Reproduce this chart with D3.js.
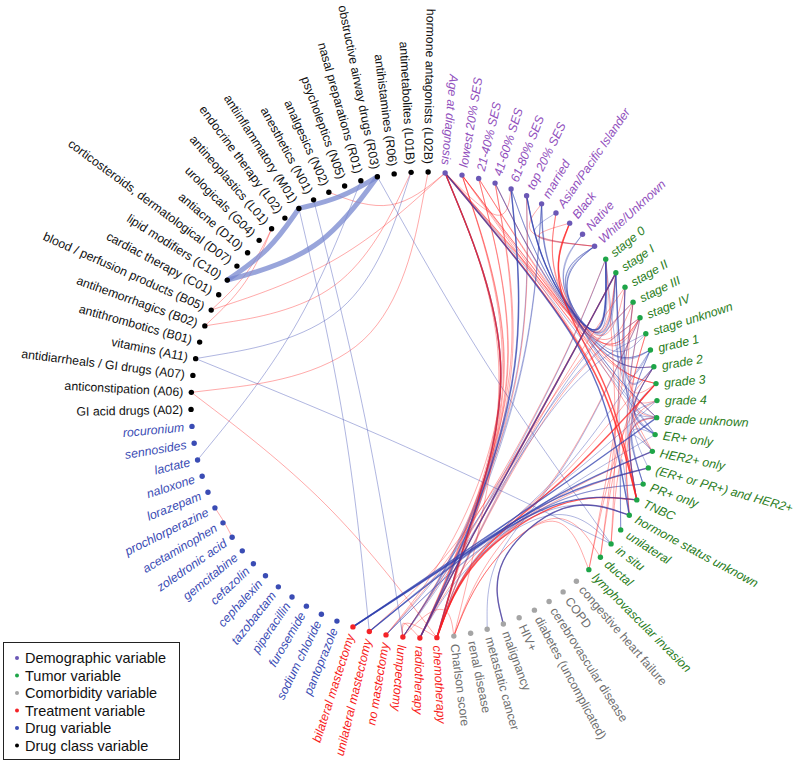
<!DOCTYPE html>
<html><head><meta charset="utf-8">
<script src="https://cdn.jsdelivr.net/npm/d3@7"></script>
<style>body{margin:0;background:#fff}svg{display:block}text{font-family:"Liberation Sans",Arial,sans-serif}</style>
</head><body><svg id="c" width="800" height="763"></svg>
<script>
// ---------------- DATA ----------------
const demographic = ["Age at diagnosis","lowest 20% SES","21-40% SES","41-60% SES","61-80% SES","top 20% SES","married","Asian/Pacific Islander","Black","Native","White/Unknown"];
const tumor = ["stage 0","stage I","stage II","stage III","stage IV","stage unknown","grade 1","grade 2","grade 3","grade 4","grade unknown","ER+ only","HER2+ only","(ER+ or PR+) and HER2+","PR+ only","TNBC","hormone status unknown","unilateral","in situ","ductal","lymphovascular invasion"];
const comorbidity = ["congestive heart failure","COPD","cerebrovascular disease","diabetes (uncomplicated)","HIV+","malignancy","metastatic cancer","renal disease","Charlson score"];
const treatment = ["chemotherapy","radiotherapy","lumpectomy","no mastectomy","unilateral mastectomy","bilateral mastectomy"];
const drugs = ["pantoprazole","sodium chloride","furosemide","piperacillin","tazobactam","cephalexin","cefazolin","gemcitabine","zoledronic acid","acetaminophen","prochlorperazine","lorazepam","naloxone","lactate","sennosides","rocuronium"];
const drugClasses = ["GI acid drugs (A02)","anticonstipation (A06)","antidiarrheals / GI drugs (A07)","vitamins (A11)","antithrombotics (B01)","antihemorrhagics (B02)","blood / perfusion products (B05)","cardiac therapy (C01)","lipid modifiers (C10)","corticosteroids, dermatological (D07)","antiacne (D10)","urologicals (G04)","antineoplastics (L01)","endocrine therapy (L02)","antiinflammatory (M01)","anesthetics (N01)","analgesics (N02)","psycholeptics (N05)","nasal preparations (R01)","obstructive airway drugs (R03)","antihistamines (R06)","antimetabolites (L01B)","hormone antagonists (L02B)"];
const legendLabels = ["Demographic variable","Tumor variable","Comorbidity variable","Treatment variable","Drug variable","Drug class variable"];
const stageVariables = ["stage 0","stage I","stage II","stage III","stage IV","stage unknown"];

// links: source, target, sign (+1 red / -1 blue), strength (1 weak, 2 strong, 5 drug-class bundle)
const linkSource = [
 "Age at diagnosis","Age at diagnosis","Age at diagnosis","Age at diagnosis","Age at diagnosis","Age at diagnosis",
 "lowest 20% SES","lowest 20% SES","lowest 20% SES","lowest 20% SES","21-40% SES","21-40% SES",
 "41-60% SES","41-60% SES","61-80% SES","61-80% SES","top 20% SES","top 20% SES","top 20% SES",
 "married","married","Asian/Pacific Islander","Asian/Pacific Islander","Black","Black","Black",
 "Native","Native","White/Unknown","White/Unknown","White/Unknown","White/Unknown",
 "Asian/Pacific Islander","Black","married","Age at diagnosis",
 "Age at diagnosis","Age at diagnosis","61-80% SES","top 20% SES","41-60% SES","lowest 20% SES","21-40% SES","married","married","top 20% SES",
 "stage 0","stage 0","stage I","stage I","stage I","stage II","stage III","stage III","stage IV","stage IV",
 "grade 1","grade 3","grade 4","grade unknown","ER+ only","HER2+ only","HER2+ only","(ER+ or PR+) and HER2+","(ER+ or PR+) and HER2+",
 "PR+ only","PR+ only","TNBC","TNBC","hormone status unknown","stage unknown","in situ","grade 2",
 "stage 0","stage 0","stage I","stage I","stage II","stage III","stage III","stage IV","stage unknown","stage unknown",
 "grade 1","grade 3","grade 3","grade 3","grade 1","grade 2","grade unknown","grade unknown","unilateral","ductal","ductal",
 "lymphovascular invasion","grade 4","stage II","stage I","grade 2",
 "grade 4","HER2+ only","ER+ only","grade 2","grade unknown","stage IV","hormone status unknown","stage II",
 "41-60% SES","married","White/Unknown",
 "Charlson score","Charlson score","Charlson score","malignancy","malignancy","metastatic cancer","Charlson score","Charlson score",
 "lumpectomy","chemotherapy",
 "lipid modifiers (C10)","antiinflammatory (M01)","lipid modifiers (C10)",
 "antineoplastics (L01)","antineoplastics (L01)","antimetabolites (L01B)","blood / perfusion products (B05)","analgesics (N02)",
 "vitamins (A11)","vitamins (A11)","lactate","anticonstipation (A06)","anticonstipation (A06)","prochlorperazine",
 "antiinflammatory (M01)","anesthetics (N01)","obstructive airway drugs (R03)",
 "lowest 20% SES","lowest 20% SES","21-40% SES","41-60% SES","Age at diagnosis","61-80% SES"
];
const linkTarget = [
 "stage IV","stage I","grade 3","TNBC","ER+ only","hormone status unknown",
 "stage III","stage IV","grade unknown","TNBC","stage II","grade 2",
 "stage I","stage 0","stage 0","grade 1","stage 0","stage I","grade 1",
 "stage I","stage 0","HER2+ only","grade 3","TNBC","grade 3","stage IV",
 "stage unknown","grade unknown","stage 0","stage I","grade 1","ER+ only",
 "White/Unknown","White/Unknown","White/Unknown","61-80% SES",
 "chemotherapy","chemotherapy","radiotherapy","lumpectomy","lumpectomy","no mastectomy","chemotherapy","lumpectomy","radiotherapy","radiotherapy",
 "no mastectomy","lumpectomy","lumpectomy","radiotherapy","radiotherapy","chemotherapy","chemotherapy","unilateral mastectomy","no mastectomy","chemotherapy",
 "chemotherapy","chemotherapy","unilateral mastectomy","bilateral mastectomy","chemotherapy","chemotherapy","unilateral mastectomy","chemotherapy","bilateral mastectomy",
 "unilateral mastectomy","no mastectomy","chemotherapy","bilateral mastectomy","no mastectomy","lumpectomy","radiotherapy","radiotherapy",
 "grade unknown","in situ","grade 1","ER+ only","grade 2","grade 3","lymphovascular invasion","grade 4","grade unknown","hormone status unknown",
 "ER+ only","TNBC","ER+ only","HER2+ only","TNBC","PR+ only","hormone status unknown","in situ","stage I","grade 2","stage II",
 "grade 3","TNBC","HER2+ only","grade 2","(ER+ or PR+) and HER2+",
 "grade unknown","PR+ only","PR+ only","ER+ only","TNBC","TNBC","unilateral","stage III",
 "grade 2","grade 2","grade unknown",
 "ductal","lymphovascular invasion","stage IV","hormone status unknown","hormone status unknown","stage IV","lumpectomy","Age at diagnosis",
 "radiotherapy","lumpectomy",
 "antiinflammatory (M01)","obstructive airway drugs (R03)","obstructive airway drugs (R03)",
 "blood / perfusion products (B05)","antihemorrhagics (B02)","antihemorrhagics (B02)","Age at diagnosis","Age at diagnosis",
 "in situ","antimetabolites (L01B)","nasal preparations (R01)","chemotherapy","hormone antagonists (L02B)","zoledronic acid",
 "unilateral mastectomy","lumpectomy","in situ",
 "chemotherapy","radiotherapy","radiotherapy","chemotherapy","radiotherapy","lumpectomy"
];
const linkSign = [
 1,1,1,1,-1,-1,
 1,1,1,1,1,1,
 1,-1,-1,-1,-1,-1,-1,
 -1,-1,1,1,1,1,1,
 -1,-1,-1,-1,-1,-1,
 -1,1,1,1,
 -1,1,-1,-1,1,1,1,-1,-1,1,
 1,-1,1,1,-1,1,-1,1,-1,1,
 -1,1,-1,-1,-1,1,-1,1,-1,
 -1,-1,1,-1,-1,-1,-1,1,
 -1,1,-1,-1,-1,1,1,1,1,1,
 -1,1,-1,1,-1,-1,1,1,-1,1,1,
 1,1,-1,-1,-1,
 -1,-1,-1,-1,-1,-1,-1,-1,
 -1,-1,-1,
 1,1,1,-1,1,-1,1,1,
 1,1,
 -1,-1,-1,
 1,1,1,1,1,
 -1,-1,-1,1,1,1,
 -1,-1,-1,
 1,1,1,1,1,-1
];
const linkStrength = [
 1,1,1,2,1,2,
 1,1,1,1,1,1,
 1,1,1,1,2,1,1,
 1,1,1,1,2,1,1,
 1,1,1,1,1,1,
 1,1,1,1,
 2,2,2,1,1,1,1,1,1,1,
 1,1,1,2,2,1,1,1,1,1,
 1,2,1,2,1,1,2,1,2,
 1,1,2,2,1,1,1,1,
 1,1,1,1,1,1,1,1,1,1,
 1,1,1,1,1,1,1,1,1,1,1,
 1,1,1,1,1,
 1,1,1,1,1,1,1,1,
 1,1,1,
 1,1,1,2,1,1,1,1,
 1,1,
 5,5,5,
 1,1,1,1,1,
 1,1,1,1,1,1,
 1,1,1,
 1,1,1,1,1,1
];

// ---------------- LAYOUT ----------------
const cx = 424, cy = 405, R = 233;
const groups = [
  {key:"D", names:demographic, dot:"#6b58b6", text:"#9150bd", italic:true},
  {key:"T", names:tumor, dot:"#1ea548", text:"#2a7d22", italic:true},
  {key:"C", names:comorbidity, dot:"#a5a5a5", text:"#6f6f6f", italic:false},
  {key:"X", names:treatment, dot:"#f42328", text:"#f81c1c", italic:true},
  {key:"G", names:drugs, dot:"#3a4cb4", text:"#3a4cb4", italic:true},
  {key:"K", names:drugClasses, dot:"#000000", text:"#111111", italic:false}
];
const nodes = [];
groups.forEach(g => g.names.forEach(n => nodes.push({name:n, group:g.key, g})));
const angle = d3.scaleLinear().domain([0, nodes.length]).range([5.2, 365.2]);
const rad = d3.scaleLinear().domain([0, 1]).range([0, R]);
const pol = (a, f) => { const t = a * Math.PI / 180; return [cx + rad(f) * Math.sin(t), cy - rad(f) * Math.cos(t)]; };
nodes.forEach((n, i) => {
  n.a = angle(i) % 360; n.xy = pol(n.a, 1); n.right = ((n.a - 7 + 360) % 360) < 180;
  n.sub = n.group === "T" ? (stageVariables.includes(n.name) ? "Ts" : "Tg") : n.group;
});
const byName = new Map(nodes.map(n => [n.name, n]));

const hubs = {
  "D>T":[43,0.73], "T>D":[82,0.81],
  "D>X":[72,0.5], "X>D":[164,0.66],
  "Ts>X":[75,0.63], "Tg>X":[120,0.69], "X>T":[166,0.66],
  "D>C":[60,0.5], "C>D":[158,0.66],
  "T>C":[120,0.69], "C>T":[160,0.7],
  "X>C":[178,0.86], "C>X":[172,0.86],
  "D":[27,0.8], "T":[93,0.84], "X":[187,0.9], "C":[156,0.9]
};
const hubFor = (n, other) => hubs[n.sub + ">" + other.group] || hubs[n.group + ">" + other.group];

function route(s, t) {
  const gs = s.group, gt = t.group;
  const direct = (gs === "G" || gs === "K" || gt === "G" || gt === "K");
  if (!direct) {
    if (gs === gt) return {pts:[s.xy, pol(...hubs[gs]), t.xy], bundle:true};
    return {pts:[s.xy, pol(...hubFor(s, t)), pol(...hubFor(t, s)), t.xy], bundle:true};
  }
  const mid = [(s.xy[0]+t.xy[0])/2, (s.xy[1]+t.xy[1])/2];
  let span = Math.abs(s.a - t.a); if (span > 180) span = 360 - span;
  if (gs === gt) {
    const va = [Math.sin(s.a*Math.PI/180)+Math.sin(t.a*Math.PI/180), -Math.cos(s.a*Math.PI/180)-Math.cos(t.a*Math.PI/180)];
    const ma = Math.atan2(va[0], -va[1]) * 180 / Math.PI;
    const chordF = Math.cos(span/2*Math.PI/180);
    const f = Math.min(chordF, Math.max(0.3, 1 - 8e-5*span*span));
    const M = pol(ma, f);
    const c = [(3*M[0]-mid[0])/2, (3*M[1]-mid[1])/2];
    return {pts:[s.xy, c, t.xy], bundle:false};
  }
  const c = [cx + 0.85*(mid[0]-cx), cy + 0.85*(mid[1]-cy)];
  return {pts:[s.xy, c, t.xy], bundle:false};
}

const svg = d3.select("#c");
const lineBundle = d3.line().curve(d3.curveBundle.beta(0.88));
const lineBasis = d3.line().curve(d3.curveBasis);

const links = linkSource.map((s, i) => ({s:byName.get(s), t:byName.get(linkTarget[i]), sign:linkSign[i], w:linkStrength[i]}))
  .filter(l => l.s && l.t)
  .sort((a, b) => a.w - b.w);

const gl = svg.append("g").attr("fill", "none");
links.forEach(l => {
  const r = route(l.s, l.t);
  const p = gl.append("path").attr("d", r.bundle ? lineBundle(r.pts) : lineBasis(r.pts));
  if (l.w === 5) {
    p.attr("stroke", "#7787cf").attr("stroke-width", 5).attr("stroke-opacity", 0.75).attr("stroke-linecap","round").attr("stroke-linejoin","round");
  } else {
    p.attr("stroke", l.sign > 0 ? "#ff1f1f" : "#2f3fae")
     .attr("stroke-width", l.w === 2 ? 1.4 : 1)
     .attr("stroke-opacity", l.w === 2 ? 0.75 : 0.38);
  }
});

// nodes
const gn = svg.append("g");
gn.selectAll("circle").data(nodes).join("circle")
  .attr("cx", d => d.xy[0]).attr("cy", d => d.xy[1]).attr("r", 2.7)
  .attr("fill", d => d.g.dot);

// labels
const gt = svg.append("g").attr("transform", `translate(${cx},${cy})`);
gt.selectAll("text").data(nodes).join("text")
  .attr("transform", d => `rotate(${d.a - 90}) translate(${R + 8},0)${d.right ? "" : " rotate(180)"}`)
  .attr("text-anchor", d => d.right ? "start" : "end")
  .attr("dy", "0.35em")
  .attr("font-size", 12.3)
  .attr("font-style", d => d.g.italic ? "italic" : "normal")
  .attr("fill", d => d.g.text)
  .text(d => d.name);

// legend
const lg = svg.append("g");
lg.append("rect").attr("x", 3.5).attr("y", 642.5).attr("width", 176).attr("height", 117)
  .attr("fill", "#fff").attr("stroke", "#222").attr("stroke-width", 1);
const ly = d3.scaleLinear().domain([0, 5]).range([658, 745.5]);
legendLabels.forEach((lab, i) => {
  lg.append("circle").attr("cx", 17).attr("cy", ly(i)).attr("r", 2).attr("fill", groups[i].dot);
  lg.append("text").attr("x", 25).attr("y", ly(i)).attr("dy", "0.35em").attr("font-size", 14.5).attr("fill", "#111").text(lab);
});
</script></body></html>
